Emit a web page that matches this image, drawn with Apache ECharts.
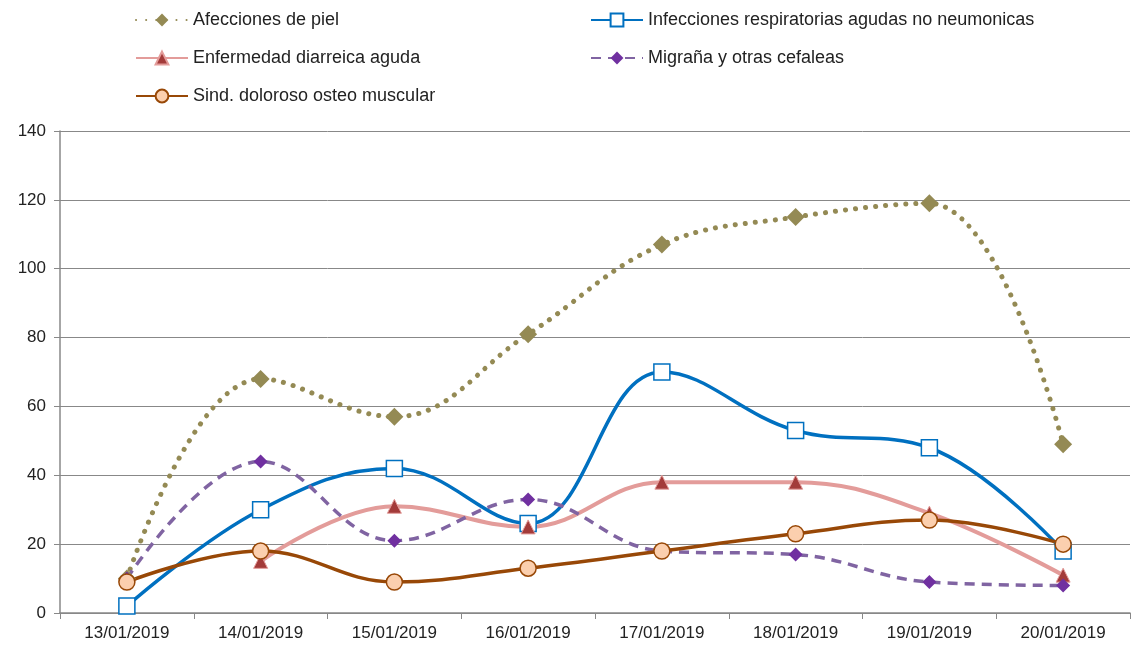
<!DOCTYPE html>
<html>
<head>
<meta charset="utf-8">
<script src="https://cdn.jsdelivr.net/npm/echarts@6/dist/echarts.min.js"></script>
<style>html,body{margin:0;padding:0;background:#fff}#main{width:1132px;height:648px}</style>
</head>
<body>
<div id="main"></div>
<script>
var fechas = ['13/01/2019','14/01/2019','15/01/2019','16/01/2019','17/01/2019','18/01/2019','19/01/2019','20/01/2019'];
var piel = [10, 68, 57, 81, 107, 115, 119, 49];
var respiratorias = [2, 30, 42, 26, 70, 53, 48, 18];
var diarreica = [null, 15, 31, 25, 38, 38, 29, 11];
var migrana = [10, 44, 21, 33, 18, 17, 9, 8];
var osteo = [9, 18, 9, 13, 18, 23, 27, 20];

var myChart = echarts.init(document.getElementById('main'));
var fuente = 'Liberation Sans';

option = {
    backgroundColor: '#fff',
    textStyle: {fontFamily: fuente},
    legend: [{
        left: 130, top: 6, orient: 'vertical', itemGap: 20,
        itemWidth: 52, itemHeight: 16,
        textStyle: {fontSize: 18, color: '#222', fontFamily: fuente},
        data: ['Afecciones de piel', 'Enfermedad diarreica aguda', 'Sind. doloroso osteo muscular']
    }, {
        left: 585, top: 6, orient: 'vertical', itemGap: 20,
        itemWidth: 52, itemHeight: 16,
        textStyle: {fontSize: 18, color: '#222', fontFamily: fuente},
        data: ['Infecciones respiratorias agudas no neumonicas', 'Migraña y otras cefaleas']
    }],
    grid: {left: 60, right: 2, top: 131, bottom: 35},
    xAxis: {
        type: 'category',
        data: fechas,
        boundaryGap: true,
        axisLine: {lineStyle: {color: '#888', width: 1.5}},
        axisTick: {show: true, length: 6, lineStyle: {color: '#888'}},
        axisLabel: {fontSize: 17, color: '#222', margin: 12}
    },
    yAxis: {
        type: 'value',
        min: 0, max: 140, interval: 20,
        axisLine: {show: true, lineStyle: {color: '#888', width: 1.5}},
        axisTick: {show: true, length: 6, inside: false, lineStyle: {color: '#888'}},
        splitLine: {lineStyle: {color: '#888', width: 1}},
        axisLabel: {fontSize: 17, color: '#222', margin: 14}
    },
    series: [{
        name: 'Afecciones de piel', type: 'line', data: piel, smooth: 0.4,
        symbol: 'diamond', symbolSize: 18,
        lineStyle: {color: '#948A54', width: 5, type: [0.1, 10], cap: 'round'},
        itemStyle: {color: '#948A54'}
    }, {
        name: 'Infecciones respiratorias agudas no neumonicas', type: 'line', data: respiratorias, smooth: 0.4,
        symbol: 'rect', symbolSize: 16,
        lineStyle: {color: '#0070C0', width: 3.5},
        itemStyle: {color: '#fff', borderColor: '#0070C0', borderWidth: 1.5}
    }, {
        name: 'Enfermedad diarreica aguda', type: 'line', data: diarreica, smooth: 0.4,
        symbol: 'triangle', symbolSize: 14,
        lineStyle: {color: '#E39C9A', width: 4},
        itemStyle: {color: '#A33B3A', borderColor: '#E39C9A', borderWidth: 1}
    }, {
        name: 'Migraña y otras cefaleas', type: 'line', data: migrana, smooth: 0.4,
        symbol: 'diamond', symbolSize: 14,
        lineStyle: {color: '#8064A2', width: 3.5, type: [10, 7]},
        itemStyle: {color: '#7030A0'}
    }, {
        name: 'Sind. doloroso osteo muscular', type: 'line', data: osteo, smooth: 0.4,
        symbol: 'circle', symbolSize: 16,
        lineStyle: {color: '#984807', width: 3.5},
        itemStyle: {color: '#FBCFAE', borderColor: '#984807', borderWidth: 1.5}
    }]
};

myChart.setOption(option, true);
</script>
</body>
</html>
